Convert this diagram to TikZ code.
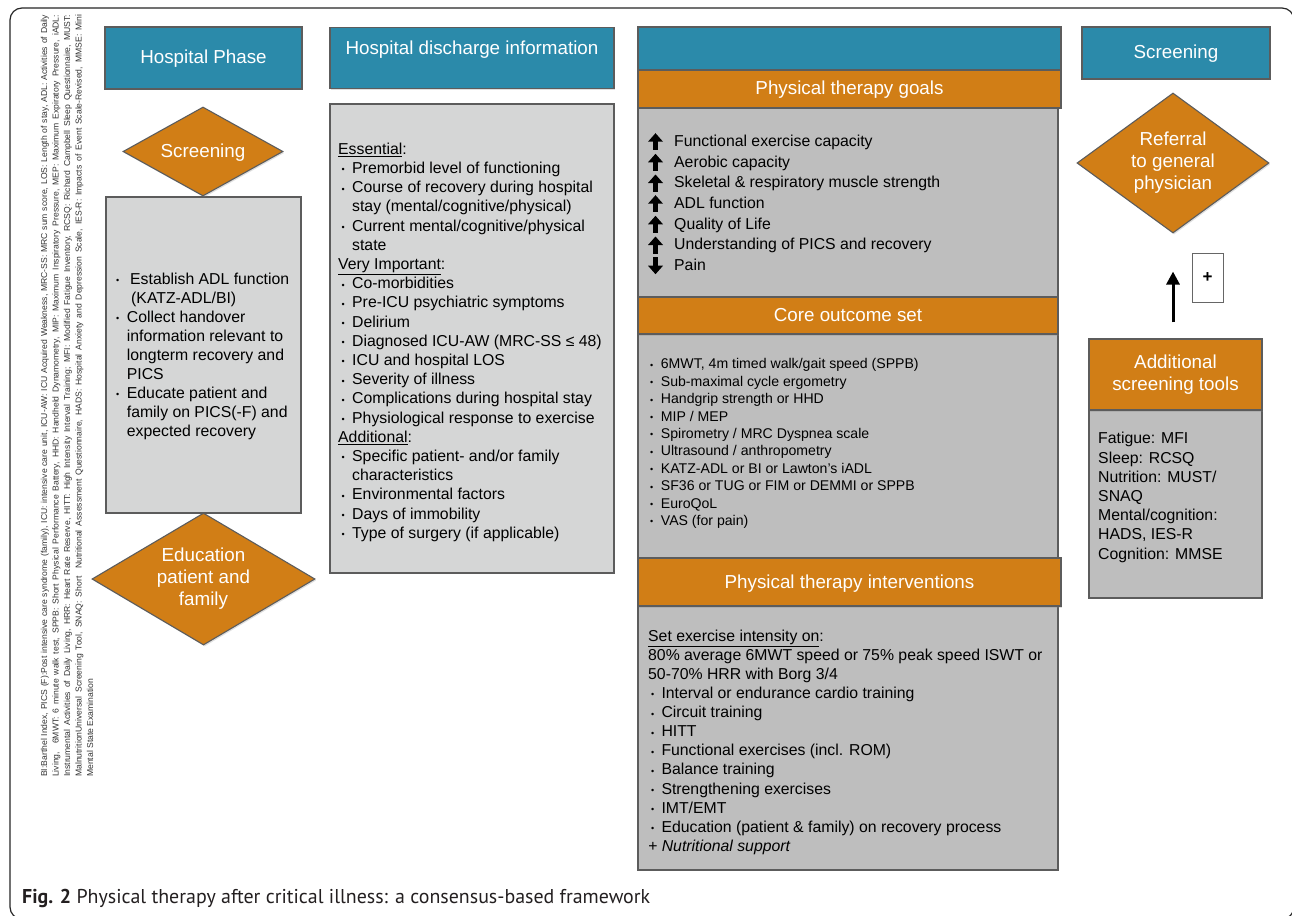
\documentclass[tikz,border=0pt]{standalone}
\usepackage{fontspec}
\usepackage{graphicx}
\setmainfont{Liberation Sans}
\newfontfamily\capfont{PT Sans}
\usetikzlibrary{shapes.geometric,arrows.meta,shadows}
\definecolor{tealc}{HTML}{2B8AAA}
\definecolor{orc}{HTML}{D17E16}
\definecolor{lgc}{HTML}{D5D6D6}
\definecolor{mgc}{HTML}{BEBEBE}
\definecolor{bordc}{HTML}{5C5C5C}
\definecolor{capc}{HTML}{231F20}
\definecolor{vtc}{HTML}{333333}
\newcommand\hdrf{\fontsize{18.8}{22}\selectfont}
\newcommand\bodyf{\fontsize{15.8}{19.2}\selectfont}
\newcommand\bulletglyph{\raisebox{0.6pt}{\fontsize{9}{9}\selectfont •}}
\newcommand\bL{\makebox[10.7pt][l]{\bulletglyph}}
\newcommand\cL{\hspace*{10.7pt}}
\newcommand\bD{\hspace*{3.5pt}\makebox[10.5pt][l]{\bulletglyph}}
\newcommand\cD{\hspace*{14pt}}
\newcommand\bC{\makebox[10.7pt][l]{\bulletglyph}}
\newcommand\bI{\hspace*{3pt}\makebox[10.3pt][l]{\bulletglyph}}
\tikzset{
  uparr/.pic={\fill (-2.7,8.5) rectangle (2.7,-0.5); \fill (-7.5,0) -- (7.5,0) -- (0,-8.5) -- cycle;},
  downarr/.pic={\fill (-2.7,-8.5) rectangle (2.7,0.5); \fill (-7.5,0) -- (7.5,0) -- (0,8.5) -- cycle;}
}
\begin{document}
\begin{tikzpicture}[x=1pt,y=-1pt,
  base/.style={draw=bordc, line width=1.1pt, inner sep=0pt},
  shad/.style={drop shadow={shadow xshift=1.2pt, shadow yshift=-1.5pt, opacity=0.25}},
  tealbox/.style={base, shad, fill=tealc, text=white, font=\hdrf, text height=12pt, text depth=0pt},
  orbar/.style={base, shad, fill=orc, text=white, font=\hdrf, text height=12pt, text depth=0pt},
  odiam/.style={base, shad, diamond, fill=orc, text=white, font=\hdrf, align=center},
  lgbox/.style={base, fill=lgc},
  mgbox/.style={base, fill=mgc},
  bodytext/.style={anchor=north west, inner sep=0pt, align=left, font=\bodyf, text=black},
  vtext/.style={rotate=90, anchor=base west, inner sep=0pt, font=\fontsize{8.6}{11}\selectfont, text=vtc},
  bigarr/.style={line width=3pt, -{Triangle[width=13pt,length=13pt]}},
  plusbox/.style={draw=gray!80!black, line width=1pt, fill=white, inner sep=0pt, font=\bfseries\fontsize{17}{17}\selectfont, text height=9pt, text depth=0pt}
]
\useasboundingbox (0,0) rectangle (1292,915);
\fill[white] (0,0) rectangle (1292,915);
% outer frame
\draw[line width=1.2pt, rounded corners=12pt, draw=black!85] (10,8) rectangle (1294,919);

% abbreviations (vertical)
\node[vtext] (v1) at (47,777) {\makebox[762pt][s]{BI:Barthel Index, PICS (F):Post intensive care syndrome (family), ICU: intensive care unit, ICU-AW: ICU Acquired Weakness, MRC-SS: MRC sum score, LOS: Length of stay, ADL: Activities of Daily}};
\node[vtext] (v2) at (58.5,777) {\makebox[762pt][s]{Living, \ 6MWT: 6 minute walk test, SPPB: Short Physical Performance Battery, HHD: Handheld Dynamometry, MIP: Maximum Inspiratory Pressure, MEP: Maximum Expiratory Pressure, iADL:}};
\node[vtext] (v3) at (70,777) {\makebox[762pt][s]{Instrumental Activities of Daily Living, HRR: Heart Rate Reserve, HITT: High Intensity Interval Training; MFI: Modified Fatigue Inventory, RCSQ: Richard Campbell Sleep Questionnaire, MUST:}};
\node[vtext] (v4) at (81.5,777) {\makebox[762pt][s]{MalnutritionUniversal Screening Tool, SNAQ: Short \ Nutritional Assessment Questionnaire, HADS: Hospital Anxiety and Depression Scale, IES-R: Impacts of Event Scale-Revised, MMSE: Mini}};
\node[vtext] (v5) at (93,777) {Mental State Examination};

% column 1
\node[tealbox, minimum width=197pt, minimum height=62pt] (hp) at (203.5,58) {Hospital Phase};
\node[lgbox, minimum width=195pt, minimum height=316pt] (lbox) at (203.5,355) {};
\node[odiam, aspect=1.8, minimum width=160pt, minimum height=89pt, text height=12pt, text depth=0pt] (scr) at (203,151.5) {Screening};
\node[odiam, aspect=1.69, minimum width=223pt, minimum height=132pt] (edu) at (203.5,579) {Education\\patient and\\family};
\node[bodytext, font=\fontsize{15.8}{19}\selectfont] (ltext) at (116,270.7) {\strut\bL\hspace*{3.3pt}Establish ADL function\\
\cL\hspace*{4.3pt}(KATZ-ADL/BI)\\
\bL Collect handover\\
\cL information relevant to\\
\cL longterm recovery and\\
\cL PICS\\
\bL Educate patient and\\
\cL family on PICS(-F) and\\
\cL expected recovery};

% column 2
\node[tealbox, anchor=north, minimum width=284pt, text height=26.5pt, text depth=34.5pt] (hdi) at (472,27) {Hospital discharge information};
\node[lgbox, minimum width=284pt, minimum height=469pt] (dbox) at (472,338.5) {};
\node[bodytext] (dtext) at (338,140.7) {\strut\underline{Essential}:\\
\bD Premorbid level of functioning\\
\bD Course of recovery during hospital\\
\cD stay (mental/cognitive/physical)\\
\bD Current mental/cognitive/physical\\
\cD state\\
\underline{Very Important}:\\
\bD Co-morbidities\\
\bD Pre-ICU psychiatric symptoms\\
\bD Delirium\\
\bD Diagnosed ICU-AW (MRC-SS ≤ 48)\\
\bD ICU and hospital LOS\\
\bD Severity of illness\\
\bD Complications during hospital stay\\
\bD Physiological response to exercise\\
\underline{Additional}:\\
\bD Specific patient- and/or family\\
\cD characteristics\\
\bD Environmental factors\\
\bD Days of immobility\\
\bD Type of surgery (if applicable)};

% column 3
\node[mgbox, minimum width=420pt, minimum height=189pt] (g1) at (848,202.5) {};
\node[mgbox, minimum width=420pt, minimum height=224pt] (g2) at (848,446) {};
\node[mgbox, minimum width=420pt, minimum height=264pt] (g3) at (848,738) {};
\node[tealbox, minimum width=423pt, minimum height=43pt] (c3) at (849.5,48.5) {};
\node[orbar, minimum width=423pt, minimum height=38pt] (ptg) at (849.5,89) {Physical therapy goals};
\node[orbar, minimum width=420pt, minimum height=37pt] (cos) at (848,315.5) {Core outcome set};
\node[orbar, minimum width=423pt, minimum height=48pt] (pti) at (849.5,582) {Physical therapy interventions};

\node[bodytext, font=\fontsize{15.8}{20.7}\selectfont] (gtext) at (674,131.7) {\strut Functional exercise capacity\\
Aerobic capacity\\
Skeletal \& respiratory muscle strength\\
ADL function\\
Quality of Life\\
Understanding of PICS and recovery\\
Pain};
\pic at (655.5,141.7) {uparr};
\pic at (655.5,162.3) {uparr};
\pic at (655.5,183) {uparr};
\pic at (655.5,203.7) {uparr};
\pic at (655.5,224.3) {uparr};
\pic at (655.5,245) {uparr};
\pic at (655.5,265.7) {downarr};

\node[bodytext, font=\fontsize{14.1}{17.4}\selectfont] (ctext) at (650,356.5) {\strut\bC 6MWT, 4m timed walk/gait speed (SPPB)\\
\bC Sub-maximal cycle ergometry\\
\bC Handgrip strength or HHD\\
\bC MIP / MEP\\
\bC Spirometry / MRC Dyspnea scale\\
\bC Ultrasound / anthropometry\\
\bC KATZ-ADL or BI or Lawton’s iADL\\
\bC SF36 or TUG or FIM or DEMMI or SPPB\\
\bC EuroQoL\\
\bC VAS (for pain)};

\node[bodytext, font=\fontsize{15.8}{19.1}\selectfont] (itext) at (648,627.7) {\strut\underline{Set exercise intensity on}:\\
80\% average 6MWT speed or 75\% peak speed ISWT or\\
50-70\% HRR with Borg 3/4\\
\bI Interval or endurance cardio training\\
\bI Circuit training\\
\bI HITT\\
\bI Functional exercises (incl. ROM)\\
\bI Balance training\\
\bI Strengthening exercises\\
\bI IMT/EMT\\
\bI Education (patient \& family) on recovery process\\
\textit{+ Nutritional support}};

% column 4
\node[tealbox, minimum width=188pt, minimum height=52pt] (scr2) at (1176,53) {Screening};
\node[odiam, aspect=1.37, minimum width=192pt, minimum height=140pt] (ref) at (1173,163) {Referral\\to general\\physician};
\node[plusbox, minimum width=31pt, minimum height=49pt] (plus) at (1207.5,277.5) {+};
\node[mgbox, minimum width=173pt, minimum height=188pt] (addg) at (1175.5,504) {};
\node[orbar, align=center, minimum width=173pt, minimum height=71pt, text height=, text depth=] (add) at (1175.5,374.5) {Additional\\screening tools};
\node[bodytext] (atext) at (1098,430.2) {\strut Fatigue: MFI\\
Sleep: RCSQ\\
Nutrition: MUST/\\
SNAQ\\
Mental/cognition:\\
HADS, IES-R\\
Cognition: MMSE};
\draw[bigarr, shorten <=16pt, shorten >=38pt] (ref.south |- add.north) -- (ref.south);

% caption
\node[anchor=base west, inner sep=0pt, text=capc] (cap) at (22,903) {\capfont\fontsize{20}{24}\selectfont\resizebox{628pt}{\height}{\textbf{Fig. 2} Physical therapy after critical illness: a consensus-based framework}};
\end{tikzpicture}
\end{document}
